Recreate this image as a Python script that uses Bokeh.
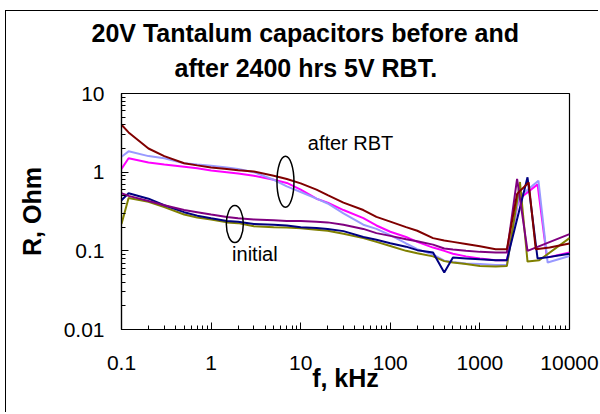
from bokeh.plotting import figure
from bokeh.models import FixedTicker, CustomJSTickFormatter, Title
from bokeh.core.properties import value
from bokeh.embed import file_html
from bokeh.resources import INLINE

# ---- data ----
freq = [0.1, 0.12, 0.2, 0.3, 0.5, 0.7, 1, 1.5, 2, 3, 5, 7, 10, 15, 20, 30, 50, 70,
        100, 150, 200, 300, 400, 500, 700, 1000, 1500, 2000]

# after RBT
darkred_f = freq + [2600, 3500, 4200, 6000, 10000]
darkred_r = [4.0, 3.2, 2.0, 1.6, 1.3, 1.22, 1.15, 1.1, 1.06, 1.02, 0.9, 0.82, 0.72, 0.6, 0.51,
             0.41, 0.33, 0.27, 0.235, 0.2, 0.18, 0.145, 0.135, 0.13, 0.122, 0.114, 0.105, 0.105,
             0.53, 0.74, 0.105, 0.11, 0.124]

lavender_f = freq + [2700, 4500, 5700, 10000]
lavender_r = [1.57, 1.84, 1.6, 1.5, 1.3, 1.25, 1.21, 1.15, 1.1, 1.0, 0.8, 0.66, 0.56, 0.46, 0.4,
              0.3, 0.215, 0.19, 0.158, 0.124, 0.105, 0.09, 0.075, 0.072, 0.069, 0.068, 0.066, 0.066,
              0.48, 0.78, 0.071, 0.086]

magenta_f = freq + [2700, 4400, 5600, 10000]
magenta_r = [1.1, 1.5, 1.33, 1.25, 1.17, 1.12, 1.05, 1.0, 0.96, 0.9, 0.8, 0.73, 0.6, 0.46, 0.41,
             0.33, 0.26, 0.21, 0.175, 0.15, 0.13, 0.11, 0.1, 0.092, 0.085, 0.08, 0.076, 0.076,
             0.45, 0.7, 0.082, 0.095]

# initial
navy_f = freq + [3400, 4400, 5400, 10000]
navy_r = [0.44, 0.54, 0.46, 0.38, 0.31, 0.28, 0.26, 0.24, 0.235, 0.22, 0.214, 0.21, 0.2, 0.195, 0.19,
          0.178, 0.15, 0.138, 0.125, 0.113, 0.102, 0.095, 0.053, 0.082, 0.08, 0.078, 0.076, 0.076,
          0.86, 0.08, 0.082, 0.092]

purple_f = freq + [2600, 3400, 10000]
purple_r = [0.54, 0.5, 0.43, 0.38, 0.33, 0.31, 0.29, 0.27, 0.26, 0.25, 0.245, 0.24, 0.24, 0.235, 0.23,
            0.215, 0.19, 0.168, 0.155, 0.14, 0.132, 0.12, 0.107, 0.104, 0.1, 0.097, 0.095, 0.095,
            0.82, 0.1, 0.163]

olive_f = freq + [2800, 3400, 4600, 10000]
olive_r = [0.22, 0.47, 0.42, 0.36, 0.29, 0.265, 0.25, 0.23, 0.225, 0.205, 0.2, 0.198, 0.194, 0.185, 0.18,
           0.165, 0.145, 0.13, 0.115, 0.1, 0.093, 0.085, 0.074, 0.071, 0.068, 0.064, 0.063, 0.064,
           0.75, 0.073, 0.076, 0.145]

x_ticks = [0.1, 1, 10, 100, 1000, 10000]
y_ticks = [0.01, 0.1, 1, 10]

title_lines = ["20V Tantalum capacitors before and", "after 2400 hrs 5V RBT."]

# annotation ellipses / labels
ell_x = [6.76, 1.84]
ell_y = [0.757, 0.219]
ell_w = [17, 17]
ell_h = [51, 37]
lab_x = [36, 3.08]
lab_y = [2.33, 0.091]
lab_t = ["after RBT", "initial"]

FONT = "Liberation Sans"

p = figure(width=593, height=402, x_axis_type="log", y_axis_type="log",
           x_range=(0.1, 10000), y_range=(0.01, 10), title=None,
           output_backend="svg", toolbar_location=None,
           min_border_left=115, min_border_right=30, min_border_top=82, min_border_bottom=84)

p.styles = {"box-shadow": "-1px -1px 0px 0px black",
            "margin-left": "6px", "margin-top": "11px"}

# title: second line added first (closest to the frame)
p.add_layout(Title(text=title_lines[1], align="left", offset=53, text_font=FONT,
                   text_font_size="25px", text_font_style="bold", text_color="black",
                   standoff=24), "above")
p.add_layout(Title(text=title_lines[0], align="left", offset=-30, text_font=FONT,
                   text_font_size="25px", text_font_style="bold", text_color="black",
                   standoff=-14), "above")

p.xgrid.visible = False
p.ygrid.visible = False
p.outline_line_color = "black"
p.outline_line_width = 1.2
p.background_fill_color = "white"
p.border_fill_color = "white"

def minors(majors):
    out = []
    for m in majors[:-1]:
        out += [m * k for k in range(2, 10)]
    return out

p.xaxis.ticker = FixedTicker(ticks=x_ticks, minor_ticks=minors(x_ticks))
p.yaxis.ticker = FixedTicker(ticks=y_ticks, minor_ticks=minors(y_ticks))
fmt = CustomJSTickFormatter(code="return tick.toString()")
for ax in (p.xaxis[0], p.yaxis[0]):
    ax.formatter = fmt
    ax.axis_line_color = "black"
    ax.axis_line_width = 1.2
    ax.major_tick_in = 7
    ax.major_tick_out = 0
    ax.minor_tick_in = 4
    ax.minor_tick_out = 0
    ax.major_tick_line_color = "black"
    ax.minor_tick_line_color = "black"
    ax.major_label_text_font = FONT
    ax.major_label_text_font_size = "21px"
    ax.major_label_text_color = "black"
    ax.axis_label_text_font = FONT
    ax.axis_label_text_font_size = "25px"
    ax.axis_label_text_font_style = "bold"
    ax.axis_label_text_color = "black"

p.xaxis.axis_label = "f, kHz"
p.yaxis.axis_label = "R, Ohm"
p.xaxis.major_label_standoff = 26
p.yaxis.major_label_standoff = 17
p.xaxis.axis_label_standoff = -9
p.yaxis.axis_label_standoff = 15

series = [
    (magenta_f, magenta_r, "#FF00FF"),
    (lavender_f, lavender_r, "#9999FF"),
    (olive_f, olive_r, "#808000"),
    (navy_f, navy_r, "#000080"),
    (purple_f, purple_r, "#800080"),
    (darkred_f, darkred_r, "#800000"),
]
for xs, ys, c in series:
    p.line(xs, ys, line_color=c, line_width=2)

p.ellipse(x=ell_x, y=ell_y, width=ell_w, height=ell_h, width_units="screen",
          height_units="screen", fill_color=None, line_color="black", line_width=1.5)
p.text(x=lab_x, y=lab_y, text=lab_t, text_font=value(FONT), text_font_size="20px",
       text_align="center", text_baseline="middle", text_color="black")

open("out.html", "w").write(file_html(p, INLINE))
